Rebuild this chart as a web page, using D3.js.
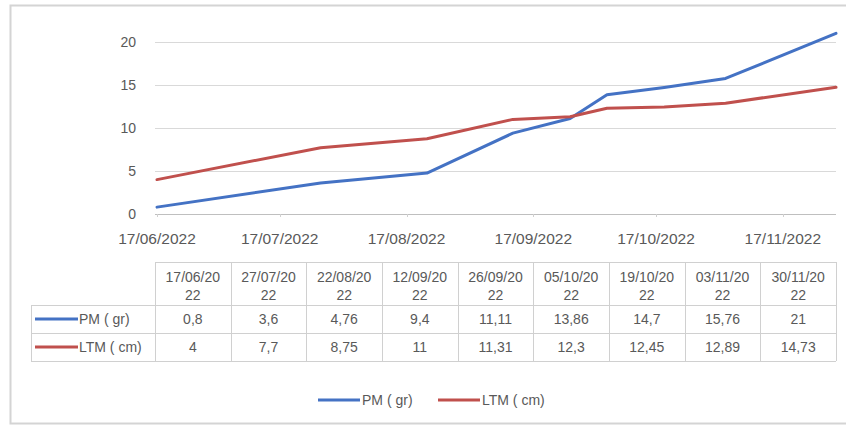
<!DOCTYPE html>
<html><head><meta charset="utf-8">
<script src="https://cdn.jsdelivr.net/npm/d3@7"></script>
<style>body{margin:0;background:#fff}svg{display:block}text{font-family:"Liberation Sans",Arial,sans-serif;fill:#595959}</style>
</head><body><svg id="c" width="846" height="429"></svg>
<script>
const dates = ["17/06/2022","27/07/2022","22/08/2022","12/09/2022","26/09/2022","05/10/2022","19/10/2022","03/11/2022","30/11/2022"];
const pm = [0.8,3.6,4.76,9.4,11.11,13.86,14.7,15.76,21];
const ltm = [4,7.7,8.75,11,11.31,12.3,12.45,12.89,14.73];
const pmLabels = ["0,8","3,6","4,76","9,4","11,11","13,86","14,7","15,76","21"];
const ltmLabels = ["4","7,7","8,75","11","11,31","12,3","12,45","12,89","14,73"];
const seriesNames = ["PM ( gr)","LTM ( cm)"];
const colors = ["#4472c4","#c0504d"];
const yTicks = [0,5,10,15,20];
const xTickLabels = ["17/06/2022","17/07/2022","17/08/2022","17/09/2022","17/10/2022","17/11/2022"];

const parse = d3.timeParse("%d/%m/%Y");
const svg = d3.select("#c");
// outer frame
svg.append("rect").attr("x",10.5).attr("y",5.5).attr("width",880).attr("height",418).attr("fill","none").attr("stroke","#d4d4d4").attr("stroke-width",2);

const x = d3.scaleTime().domain([parse(dates[0]), parse(dates[dates.length-1])]).range([157,836]);
const y = d3.scaleLinear().domain([0,20]).range([214,42]);

// gridlines
svg.append("g").selectAll("line").data(yTicks).join("line")
  .attr("x1",155).attr("x2",836).attr("y1",d=>y(d)+0.5).attr("y2",d=>y(d)+0.5)
  .attr("stroke",d=>d===0?"#bfbfbf":"#d9d9d9").attr("stroke-width",1);
svg.append("g").selectAll("text").data(yTicks).join("text")
  .attr("x",136).attr("y",d=>y(d)+5).attr("text-anchor","end").attr("font-size",14).text(d=>d);

// x ticks
const xt = xTickLabels.map(parse);
svg.append("g").selectAll("line").data(xt).join("line")
  .attr("x1",d=>Math.round(x(d))+0.5).attr("x2",d=>Math.round(x(d))+0.5).attr("y1",214).attr("y2",217)
  .attr("stroke","#d0d0d0");
svg.append("g").selectAll("text").data(xt).join("text")
  .attr("x",d=>x(d)).attr("y",244).attr("text-anchor","middle").attr("font-size",15.5)
  .text((d,i)=>xTickLabels[i]);

// lines
const line = d3.line().x((d,i)=>x(parse(dates[i]))).y(d=>y(d));
[pm,ltm].forEach((s,k)=>{
  svg.append("path").datum(s).attr("d",line).attr("fill","none").attr("stroke",colors[k])
    .attr("stroke-width",3).attr("stroke-linejoin","round").attr("stroke-linecap","round");
});

// data table
const tx0 = 155, cw = (836-155)/dates.length, hy0 = 262, hy1 = 305, r1 = 333, r2 = 361, lx0 = 31;
const tg = svg.append("g");
const gs = "#d0d0d0";
tg.append("line").attr("x1",tx0).attr("x2",836).attr("y1",hy0+0.5).attr("y2",hy0+0.5).attr("stroke",gs);
[hy1,r1,r2].forEach(yy=>tg.append("line").attr("x1",lx0).attr("x2",836).attr("y1",yy+0.5).attr("y2",yy+0.5).attr("stroke",gs));
tg.append("line").attr("x1",lx0+0.5).attr("x2",lx0+0.5).attr("y1",hy1).attr("y2",r2).attr("stroke",gs);
d3.range(dates.length+1).forEach(i=>{
  const xx = Math.round(tx0+i*cw)+0.5;
  tg.append("line").attr("x1",xx).attr("x2",xx).attr("y1",hy0).attr("y2",r2).attr("stroke",gs);
});
dates.forEach((d,i)=>{
  const cx = tx0+(i+0.5)*cw;
  const t = tg.append("text").attr("text-anchor","middle").attr("font-size",14);
  t.append("tspan").attr("x",cx).attr("y",282).text(d.slice(0,8));
  t.append("tspan").attr("x",cx).attr("y",300).text(d.slice(8));
});
[pmLabels,ltmLabels].forEach((labs,k)=>{
  const yy = (k===0?hy1:r1)+19;
  labs.forEach((v,i)=>tg.append("text").attr("x",tx0+(i+0.5)*cw).attr("y",yy).attr("text-anchor","middle").attr("font-size",14).text(v));
  tg.append("line").attr("x1",35).attr("x2",78).attr("y1",yy-5).attr("y2",yy-5).attr("stroke",colors[k]).attr("stroke-width",3);
  tg.append("text").attr("x",79).attr("y",yy).attr("font-size",14).text(seriesNames[k]);
});

// legend
const lg = svg.append("g");
[[318,360,362],[438,480,482]].forEach((p,k)=>{
  lg.append("line").attr("x1",p[0]).attr("x2",p[1]).attr("y1",400).attr("y2",400).attr("stroke",colors[k]).attr("stroke-width",3);
  lg.append("text").attr("x",p[2]).attr("y",405).attr("font-size",14).text(seriesNames[k]);
});
</script></body></html>
